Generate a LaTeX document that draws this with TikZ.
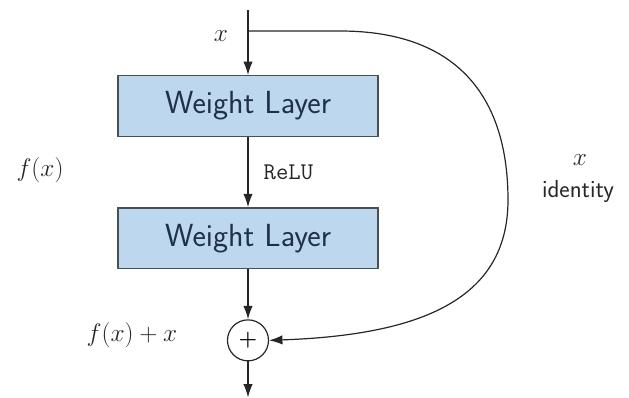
\RequirePackage{fix-cm}
\documentclass[tikz,border=0pt]{standalone}
\usetikzlibrary{positioning,arrows.meta}
\definecolor{layerblue}{HTML}{BDD7EE}
\definecolor{layerline}{HTML}{4A4F55}
\definecolor{layertext}{HTML}{1F3049}
\begin{document}
\begin{tikzpicture}[
x=0.75pt,y=-0.75pt,
layer/.style={draw=layerline,line width=1.1pt,fill=layerblue,minimum width=195pt,minimum height=45.5pt,text=layertext,font=\sffamily\fontsize{24}{28}\selectfont},
sum/.style={draw=black!85,circle,line width=0.9pt,minimum size=30.75pt,inner sep=0pt,font=\fontsize{16}{18}\selectfont},
lbl/.style={text=black!85,font=\fontsize{19}{22}\selectfont},
link/.style={->,line width=0.9pt,draw=black!85},
>={Latex[length=10pt,width=7pt]}]
\useasboundingbox (0,0) rectangle (629,398);
\coordinate (in) at (248,10);
\coordinate (split) at (248,31);
\node[layer,anchor=north] (l1) at (248,75) {Weight Layer};
\node[layer,below=52.5pt of l1] (l2) {Weight Layer};
\node[sum,below=37.5pt of l2] (add) {\bfseries +};
\coordinate[below=27pt of add] (out);
\coordinate (bend) at (508,200);
\draw[link] (in) -- (l1);
\draw[link] (l1) -- (l2) node[midway,right=8pt,text=black!85,font=\ttfamily\fontsize{18}{20}\selectfont] (relu) {ReLU};
\draw[link] (l2) -- (add);
\draw[link] (add) -- (out);
\draw[link] (split) -- (340,31) .. controls (460,31) and (508,100) .. (bend)
  .. controls (508,300) and (420,335) .. (add.east);
% labels
\node[lbl] (xin) at (221,36) {$x$};
\node[lbl] (fx) at (40,170) {$f(x)$};
\node[lbl] (fxx) at (132,335) {$f(x)+x$};
\node[lbl] (xid) at (580,160) {$x$};
\node[lbl,font=\sffamily\fontsize{18.5}{22}\selectfont] (id) at (578,191) {identity};
\end{tikzpicture}
\end{document}
